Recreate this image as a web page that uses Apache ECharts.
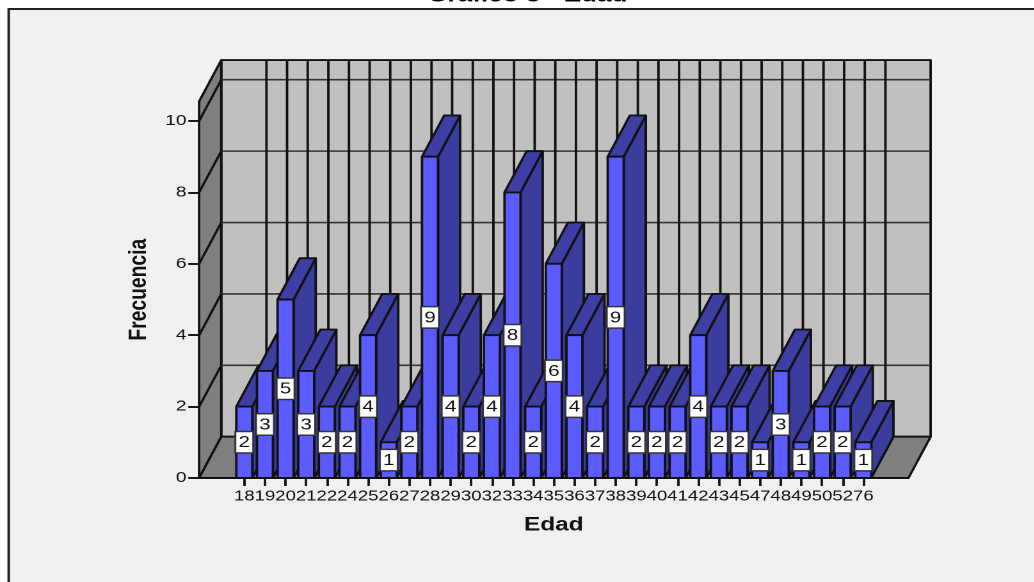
<!DOCTYPE html>
<html>
<head>
<meta charset="utf-8">
<title>Gráfico 3 - Edad</title>
<script src="https://cdn.jsdelivr.net/npm/echarts@6/dist/echarts.min.js"></script>
<style>
    html, body { margin: 0; padding: 0; background: #fff; overflow: hidden; }
    /* the original picture is stretched sideways, text and strokes included */
    #chart { width: 808px; height: 582px; transform: scaleX(1.28); transform-origin: 0 0; }
</style>
</head>
<body>
<div id="chart"></div>
<script>
const ages = ['18','19','20','21','22','24','25','26','27','28','29','30','32','33','34','35','36','37','38','39','40','41','42','43','45','47','48','49','50','52','76'];
const counts = [2,3,5,3,2,2,4,1,2,9,4,2,4,8,2,6,4,2,9,2,2,2,4,2,2,1,3,1,2,2,1];
const yTicks = [0,2,4,6,8,10];

const FONT = '"Liberation Sans", Arial, sans-serif';
const DEPTH_X = 17.3;   // horizontal shift of the back wall
const DEPTH_Y = 41.3;   // vertical shift of the back wall
const Y_TOP = 10.55;    // the walls rise a bit above the last tick
const SIDE_BANDS = 2.19; // floor margin outside first/last category, in bands
const LINE = '#111';
const LINE_W = 1.9;

const chart = echarts.init(document.getElementById('chart'), null, { renderer: 'canvas', devicePixelRatio: 2 });

function line(x1, y1, x2, y2, width, color) {
    return {
        type: 'line',
        shape: { x1, y1, x2, y2 },
        style: { stroke: color || LINE, lineWidth: width || LINE_W }
    };
}

function poly(points, fill) {
    return {
        type: 'polygon',
        shape: { points },
        style: { fill, stroke: LINE, lineWidth: LINE_W, lineJoin: 'round' }
    };
}

// back wall, side wall and floor
function renderWalls(params, api) {
    const band = api.size([1, 0])[0];
    const first = api.coord([0, 0])[0];
    const last = api.coord([ages.length - 1, 0])[0];
    const left = first - SIDE_BANDS * band;
    const right = last + SIDE_BANDS * band;
    const y0 = api.coord([0, 0])[1];
    const yTop = api.coord([0, Y_TOP])[1];
    const children = [];

    children.push(poly([[left + DEPTH_X, y0 - DEPTH_Y], [right + DEPTH_X, y0 - DEPTH_Y], [right + DEPTH_X, yTop - DEPTH_Y], [left + DEPTH_X, yTop - DEPTH_Y]], '#c0c0c0'));
    children.push(poly([[left, y0], [left + DEPTH_X, y0 - DEPTH_Y], [left + DEPTH_X, yTop - DEPTH_Y], [left, yTop]], '#7f7f7f'));
    children.push(poly([[left, y0], [left + DEPTH_X, y0 - DEPTH_Y], [right + DEPTH_X, y0 - DEPTH_Y], [right, y0]], '#7f7f7f'));

    yTicks.slice(1).forEach(v => {
        const y = api.coord([0, v])[1];
        children.push(line(left + DEPTH_X, y - DEPTH_Y, right + DEPTH_X, y - DEPTH_Y, 1.6, '#333'));
        children.push(line(left, y, left + DEPTH_X, y - DEPTH_Y));
    });
    ages.forEach((a, i) => {
        const x = api.coord([i, 0])[0] + DEPTH_X;
        children.push(line(x, y0 - DEPTH_Y, x, yTop - DEPTH_Y));
    });
    return { type: 'group', children };
}

// one bar with its three faces and the value box
function renderBar(params, api) {
    const i = api.value(0);
    const v = api.value(1);
    const c = api.coord([i, v]);
    const y0 = api.coord([i, 0])[1];
    const w = api.size([1, 0])[0] * 0.775;
    const l = c[0] - w / 2;
    const r = c[0] + w / 2;
    const top = c[1];
    const mid = (top + y0) / 2;
    const boxW = w + 1.5;
    const boxH = 21.5;
    return {
        type: 'group',
        children: [
            poly([[r, y0], [r + DEPTH_X, y0 - DEPTH_Y], [r + DEPTH_X, top - DEPTH_Y], [r, top]], '#3a3c9e'),
            poly([[l, top], [l + DEPTH_X, top - DEPTH_Y], [r + DEPTH_X, top - DEPTH_Y], [r, top]], '#3d3fa4'),
            poly([[l, y0], [r, y0], [r, top], [l, top]], '#5a5cff'),
            {
                type: 'rect',
                shape: { x: c[0] - boxW / 2, y: mid - boxH / 2, width: boxW, height: boxH },
                style: { fill: '#fff', stroke: '#333', lineWidth: 1.5 }
            },
            {
                type: 'text',
                style: {
                    x: c[0], y: mid + 0.5, text: String(v),
                    align: 'center', verticalAlign: 'middle',
                    font: '16px ' + FONT, fill: '#111'
                }
            }
        ]
    };
}

chart.setOption({
    animation: false,
    backgroundColor: '#fff',
    title: {
        text: 'Gráfico 3 - Edad',
        left: 407,
        top: -19,
        textAlign: 'center',
        textStyle: { fontFamily: FONT, fontSize: 20.4, fontWeight: 'bold', color: '#000' }
    },
    graphic: [{
        type: 'rect',
        z: -10,
        shape: { x: 6.8, y: 9, width: 1000, height: 800 },
        style: { fill: '#f0f0f0', stroke: '#222', lineWidth: 2 }
    }],
    grid: { left: 182.8, width: 499.7, top: 101.4, height: 376.6 },
    xAxis: {
        type: 'category',
        data: ages,
        name: 'Edad',
        nameLocation: 'middle',
        nameGap: 38,
        nameTextStyle: { fontFamily: FONT, fontSize: 19, fontWeight: 'bold', color: '#111' },
        axisLine: { show: false },
        axisTick: { show: true, alignWithLabel: true, length: 8, lineStyle: { color: LINE, width: 1.9 } },
        axisLabel: { interval: 0, margin: 11, hideOverlap: false, fontFamily: FONT, fontSize: 14.5, color: '#111' }
    },
    yAxis: {
        type: 'value',
        min: 0,
        max: Y_TOP,
        offset: 27.1,
        name: 'Frecuencia',
        nameLocation: 'middle',
        nameGap: 35.5,
        nameTextStyle: { fontFamily: FONT, fontSize: 19.3, fontWeight: 'bold', color: '#111' },
        splitLine: { show: false },
        axisLine: { show: false },
        axisTick: { show: true, length: 8.6, customValues: yTicks, lineStyle: { color: LINE, width: 1.9 } },
        axisLabel: { margin: 10, customValues: yTicks, fontFamily: FONT, fontSize: 15, color: '#111' }
    },
    series: [
        {
            type: 'custom',
            z: 1,
            silent: true,
            data: [[0, 0]],
            renderItem: renderWalls
        },
        {
            type: 'custom',
            z: 2,
            data: counts.map((v, i) => [i, v]),
            encode: { x: 0, y: 1 },
            renderItem: renderBar
        }
    ]
});

window.addEventListener('resize', () => chart.resize());
</script>
</body>
</html>
